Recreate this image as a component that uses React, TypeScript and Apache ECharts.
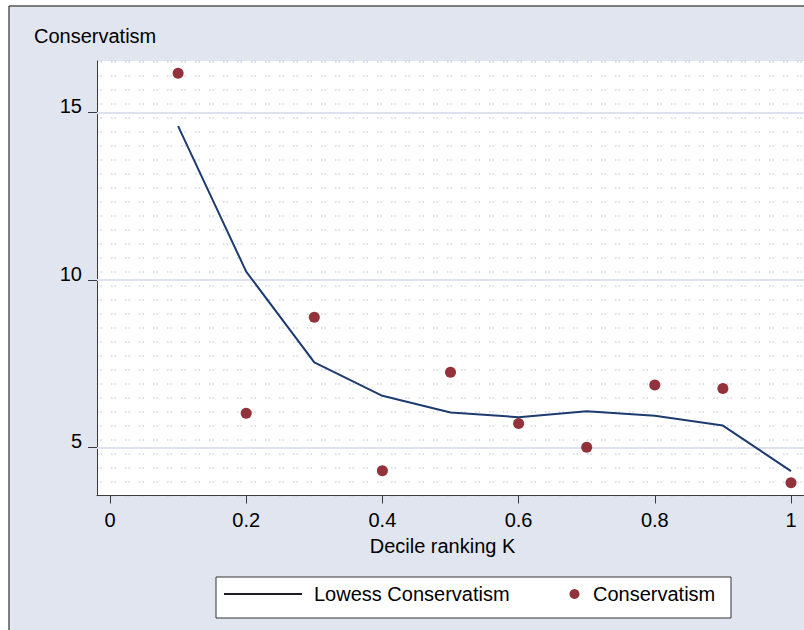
import React, { useEffect, useRef } from "react";
import * as echarts from "echarts";

const xValues = [0.1, 0.2, 0.3, 0.4, 0.5, 0.6, 0.7, 0.8, 0.9, 1.0];
const conservatism = [16.18, 6.02, 8.89, 4.3, 7.24, 5.71, 5.0, 6.86, 6.76, 3.94];
const lowessConservatism = [14.6, 10.25, 7.54, 6.54, 6.04, 5.9, 6.08, 5.94, 5.65, 4.29];
const xTicks = [0, 0.2, 0.4, 0.6, 0.8, 1];
const yTicks = [5, 10, 15];

const FONT = "'Liberation Sans', Arial, Helvetica, sans-serif";

export default function App() {
  const ref = useRef<HTMLDivElement>(null);
  useEffect(() => {
    if (!ref.current) return;
    const chart = echarts.init(ref.current, null, { renderer: "svg" });
    const axisColor = "#3a3a3a";
    chart.setOption({
      animation: false,
      backgroundColor: "#e1e5ef",
      textStyle: { fontFamily: FONT },
      title: {
        text: "Conservatism",
        left: 34,
        top: 26,
        padding: 0,
        textStyle: { fontSize: 20, fontWeight: "normal", color: "#000", fontFamily: FONT },
      },
      graphic: [
        { type: "rect", shape: { x: 0, y: 0, width: 804, height: 6 }, style: { fill: "#fff" }, silent: true },
        { type: "rect", shape: { x: 0, y: 0, width: 9, height: 630 }, style: { fill: "#fff" }, silent: true },
        { type: "line", shape: { x1: 9, y1: 6, x2: 804, y2: 6 }, style: { stroke: "#555", lineWidth: 1.5 }, silent: true },
        { type: "line", shape: { x1: 9, y1: 6, x2: 9, y2: 630 }, style: { stroke: "#555", lineWidth: 1.5 }, silent: true },
        {
          type: "rect",
          shape: { x: 216, y: 577, width: 515, height: 41 },
          style: { fill: "#fff", stroke: "#333", lineWidth: 1 },
          silent: true,
          z: 1,
        },
      ],
      grid: {
        left: 97,
        top: 61,
        right: 0,
        bottom: 134.5,
        show: true,
        backgroundColor: "#fff",
        borderWidth: 0,
      },
      legend: [
        {
          data: [{ name: "Lowess Conservatism", icon: "rect", itemStyle: { color: "#1c1c24" } }],
          left: 224,
          top: 584,
          padding: 0,
          itemWidth: 78,
          itemHeight: 2,
          z: 5,
          textStyle: { fontSize: 20, color: "#000", fontFamily: FONT, padding: [0, 0, 0, 7] },
        },
        {
          data: [{ name: "Conservatism", icon: "circle", itemStyle: { color: "#93323a", opacity: 1 } }],
          left: 569.5,
          top: 584,
          padding: 0,
          itemWidth: 10,
          itemHeight: 10,
          z: 5,
          textStyle: { fontSize: 20, color: "#000", fontFamily: FONT, padding: [0, 0, 0, 8.5] },
        },
      ],
      xAxis: {
        type: "value",
        min: -0.0191,
        max: 1.0191,
        name: "Decile ranking K",
        nameLocation: "middle",
        nameGap: 40,
        nameTextStyle: { fontSize: 20, color: "#000", fontFamily: FONT, padding: [0, 16, 0, 0] },
        axisLine: { show: true, onZero: false, lineStyle: { color: axisColor, width: 1 } },
        axisTick: { show: true, length: 8, customValues: xTicks, lineStyle: { color: axisColor } },
        axisLabel: {
          customValues: xTicks,
          margin: 14,
          fontSize: 20,
          color: "#000",
          fontFamily: FONT,
          formatter: (v: number) => String(v),
        },
        splitLine: { show: false },
      },
      yAxis: [
        {
          type: "value",
          min: 3.56,
          max: 16.545,
          position: "left",
          axisLine: { show: true, onZero: false, lineStyle: { color: axisColor, width: 1 } },
          axisTick: { show: true, length: 9, customValues: yTicks, lineStyle: { color: axisColor } },
          axisLabel: {
            customValues: yTicks,
            margin: 15,
            fontSize: 20,
            color: "#000",
            fontFamily: FONT,
            verticalAlign: "bottom",
            lineHeight: 13,
            formatter: (v: number) => String(v),
          },
          splitLine: { show: false },
        },
        {
          type: "value",
          min: 0,
          max: 31.04,
          interval: 1,
          position: "left",
          axisLine: { show: false },
          axisTick: { show: false },
          axisLabel: { show: false },
          splitLine: {
            show: true,
            lineStyle: { color: "#d0d5e4", width: 1.5, type: [1.5, 2, 1.5, 9] },
          },
        },
      ],
      series: [
        {
          name: "Lowess Conservatism",
          type: "line",
          yAxisIndex: 0,
          data: xValues.map((x, i) => [x, lowessConservatism[i]]),
          symbol: "none",
          lineStyle: { color: "#1e3b70", width: 2 },
          itemStyle: { color: "#1e3b70" },
          z: 3,
          silent: true,
        },
        {
          name: "Conservatism",
          type: "scatter",
          yAxisIndex: 0,
          data: xValues.map((x, i) => [x, conservatism[i]]),
          symbol: "circle",
          symbolSize: 11,
          itemStyle: { color: "#93323a", opacity: 1 },
          z: 4,
          markLine: {
            silent: true,
            symbol: "none",
            label: { show: false },
            lineStyle: { color: "#dde2ee", width: 2, type: "solid" },
            data: yTicks.map((v) => ({ yAxis: v })),
            z: 1,
          },
        },
      ],
    });
    return () => chart.dispose();
  }, []);
  return (
    <div
      ref={ref}
      style={{ position: "fixed", left: 0, top: 0, width: 804, height: 630 }}
    />
  );
}
